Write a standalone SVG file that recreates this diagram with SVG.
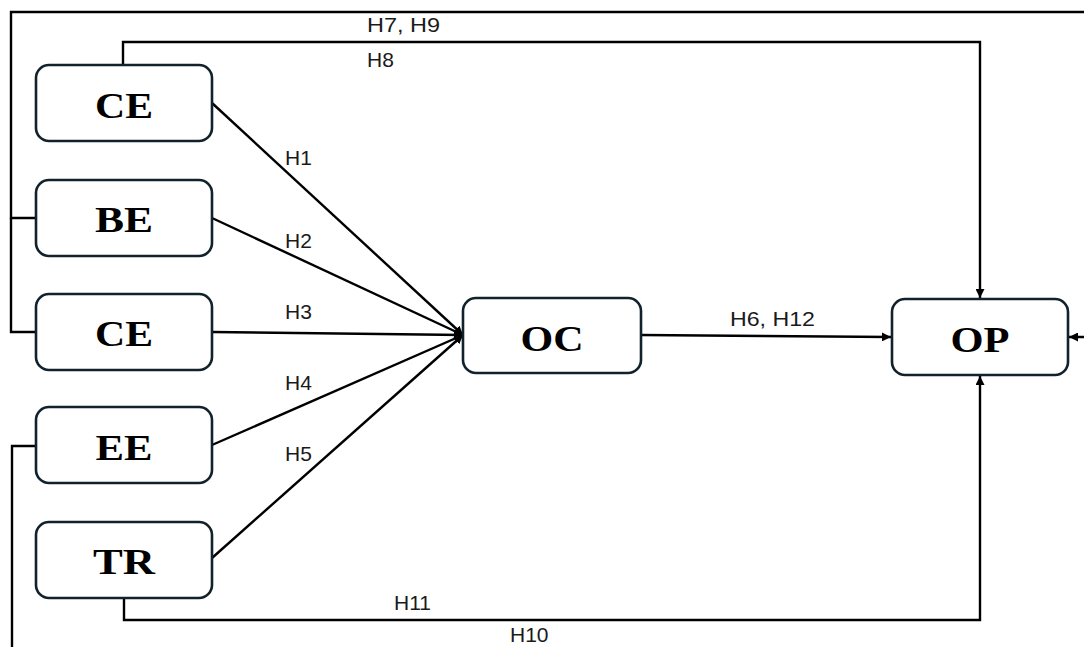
<svg xmlns="http://www.w3.org/2000/svg" width="1084" height="647" viewBox="0 0 1084 647">
<defs>
<marker id="arr" viewBox="0 0 10 10" refX="10" refY="5" markerWidth="9" markerHeight="9" markerUnits="userSpaceOnUse" orient="auto">
<path d="M0,0 L10,5 L0,10 z" fill="#000"/>
</marker>
<style>
.box{fill:#fff;stroke:#12222c;stroke-width:2.6}
.nl{font-family:"Liberation Serif",serif;font-weight:bold;font-size:36px;fill:#000;text-anchor:middle}
.el{font-family:"Liberation Sans",Arial,sans-serif;font-size:21px;fill:#1a1a1a}
.ln{fill:none;stroke:#000;stroke-width:2.4}
</style>
</defs>
<rect width="1084" height="647" fill="#fff"/>
<g id="connectors">
<path class="ln" d="M37,218 H11 V12 H1090 V337 H1069" marker-end="url(#arr)"/>
<path class="ln" d="M37,332 H11 V218"/>
<path class="ln" d="M123,65 V42 H980 V298" marker-end="url(#arr)"/>
<path class="ln" d="M37,446 H12 V660"/>
<path class="ln" d="M124,598 V620 H980 V376" marker-end="url(#arr)"/>
<line class="ln" x1="212" y1="103" x2="463" y2="335" marker-end="url(#arr)"/>
<line class="ln" x1="212" y1="218" x2="463" y2="335" marker-end="url(#arr)"/>
<line class="ln" x1="212" y1="332" x2="463" y2="335" marker-end="url(#arr)"/>
<line class="ln" x1="212" y1="445" x2="463" y2="335" marker-end="url(#arr)"/>
<line class="ln" x1="212" y1="558" x2="463" y2="335" marker-end="url(#arr)"/>
<line class="ln" x1="641" y1="335" x2="891" y2="337" marker-end="url(#arr)"/>
<text class="el" x="367" y="32" textLength="73" lengthAdjust="spacingAndGlyphs">H7, H9</text>
<text class="el" x="367" y="67">H8</text>
<text class="el" x="285" y="165">H1</text>
<text class="el" x="285" y="248">H2</text>
<text class="el" x="285" y="319">H3</text>
<text class="el" x="285" y="390">H4</text>
<text class="el" x="285" y="461">H5</text>
<text class="el" x="730" y="326" textLength="85" lengthAdjust="spacingAndGlyphs">H6, H12</text>
<text class="el" x="394" y="610">H11</text>
<text class="el" x="510" y="642">H10</text>
</g>
<g id="CE1"><rect class="box" x="36" y="65" width="176" height="76" rx="13"/><text class="nl" x="124" y="118" textLength="58" lengthAdjust="spacingAndGlyphs">CE</text></g>
<g id="BE"><rect class="box" x="36" y="180" width="176" height="76" rx="13"/><text class="nl" x="124" y="232" textLength="58" lengthAdjust="spacingAndGlyphs">BE</text></g>
<g id="CE2"><rect class="box" x="36" y="294" width="176" height="76" rx="13"/><text class="nl" x="124" y="346" textLength="58" lengthAdjust="spacingAndGlyphs">CE</text></g>
<g id="EE"><rect class="box" x="36" y="407" width="176" height="76" rx="13"/><text class="nl" x="124" y="460" textLength="57" lengthAdjust="spacingAndGlyphs">EE</text></g>
<g id="TR"><rect class="box" x="36" y="522" width="176" height="76" rx="13"/><text class="nl" x="124" y="574" textLength="62" lengthAdjust="spacingAndGlyphs">TR</text></g>
<g id="OC"><rect class="box" x="463" y="298" width="178" height="75" rx="13"/><text class="nl" x="552" y="351" textLength="63" lengthAdjust="spacingAndGlyphs">OC</text></g>
<g id="OP"><rect class="box" x="892" y="299" width="176" height="76" rx="13"/><text class="nl" x="980" y="352" textLength="59" lengthAdjust="spacingAndGlyphs">OP</text></g>
</svg>
